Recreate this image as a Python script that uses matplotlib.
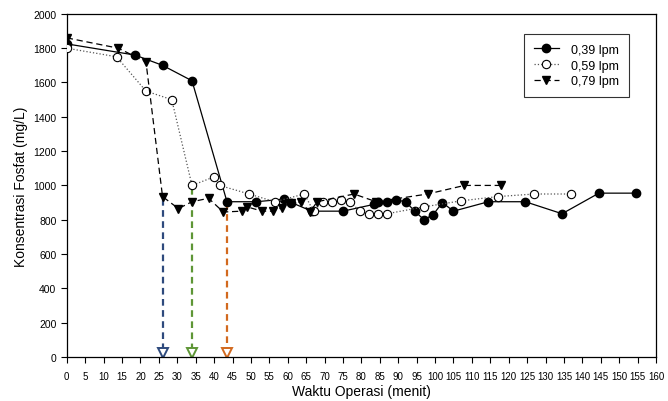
"""Konsentrasi fosfat vs waktu operasi."""
import matplotlib
matplotlib.use('Agg')
import matplotlib.pyplot as plt

plt.rcParams['font.family'] = ['Liberation Sans', 'DejaVu Sans']

# 0,39 lpm
t39 = [0, 18.5, 26, 34, 43.5, 51.5, 59, 61, 66.5, 75, 83.5, 84.5, 87, 89.5, 92, 94.5, 97, 99.5, 102, 105, 114.5, 124.5, 134.5, 144.5, 154.5]
c39 = [1825, 1760, 1700, 1610, 905, 905, 920, 900, 850, 850, 890, 905, 905, 915, 905, 850, 800, 830, 900, 850, 905, 905, 835, 955, 955]

# 0,59 lpm
t59 = [0, 13.5, 21.5, 28.5, 34, 40, 41.5, 49.5, 56.5, 64.5, 67, 69.5, 72, 74.5, 77, 79.5, 82, 84.5, 87, 97, 107, 117, 127, 137]
c59 = [1800, 1750, 1550, 1500, 1000, 1050, 1000, 950, 905, 950, 850, 905, 905, 915, 905, 850, 835, 835, 835, 875, 910, 935, 950, 950]

# 0,79 lpm
t79 = [0, 14, 21.5, 26, 30.3, 34, 38.5, 42.5, 47.5, 49, 53, 56, 58.5, 61, 63.5, 66, 68, 78, 84, 98, 108, 118]
c79 = [1860, 1800, 1720, 935, 865, 905, 925, 845, 850, 875, 850, 850, 870, 895, 905, 845, 905, 950, 905, 950, 1000, 1000]

# vertical dashed arrows (time, top concentration, colour)
arrow_t = [26, 34, 43.5]
arrow_top = [920, 985, 895]
arrow_col = ['#2E4A7D', '#5E9636', '#D2691E']

fig = plt.figure(figsize=(6.68, 4.02), dpi=100)
ax = fig.add_axes([0.100, 0.1095, 0.882, 0.8535])

for t, top, col in zip(arrow_t, arrow_top, arrow_col):
    ax.plot([t, t], [top, 45], linestyle=(0, (3, 2)), color=col, linewidth=1.6, zorder=1)
    ax.plot(t, 25, marker='v', markersize=7, markerfacecolor='white',
            markeredgecolor=col, markeredgewidth=1.4, zorder=2)

ax.plot(t39, c39, '-', color='black', linewidth=0.9, marker='o', markersize=6,
        markerfacecolor='black', markeredgecolor='black', label='0,39 lpm', zorder=3)
ax.plot(t59, c59, ':', color='#555555', linewidth=0.9, marker='o', markersize=6,
        markerfacecolor='white', markeredgecolor='black', markeredgewidth=0.8,
        label='0,59 lpm', zorder=3)
ax.plot(t79, c79, '--', color='black', linewidth=0.9, dashes=(5, 3), marker='v',
        markersize=6, markerfacecolor='black', markeredgecolor='black',
        label='0,79 lpm', zorder=3)

ax.set_xlim(0, 160)
ax.set_ylim(0, 2000)
ax.set_xticks(range(0, 161, 5))
ax.set_yticks(range(0, 2001, 200))
ax.tick_params(axis='x', labelsize=7, direction='out', length=4, pad=6)
ax.tick_params(axis='y', labelsize=7.5, direction='out', length=4)
for s in ax.spines.values():
    s.set_linewidth(0.9)

ax.set_xlabel('Waktu Operasi (menit)', fontsize=10, labelpad=2)
ax.set_ylabel('Konsentrasi Fosfat (mg/L)', fontsize=10, labelpad=4)

leg = ax.legend(loc='upper right', bbox_to_anchor=(0.965, 0.96), fontsize=9,
                frameon=True, fancybox=False, edgecolor='black', handlelength=2.0,
                borderpad=0.8, labelspacing=0.3, handletextpad=1.0)
leg.get_frame().set_linewidth(0.8)

fig.savefig('out.png', dpi=100)
